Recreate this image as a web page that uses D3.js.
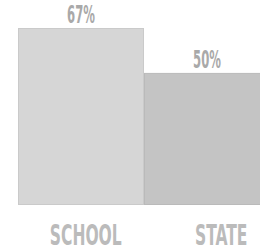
<!DOCTYPE html>
<html>
<head>
<meta charset="utf-8">
<script src="https://cdn.jsdelivr.net/npm/d3@7"></script>
<style>
  body { margin: 0; background: #fff; }
  svg { display: block; }
</style>
</head>
<body>
<svg id="chart"></svg>
<script>
const categories = ["SCHOOL", "STATE"];
const values = [67, 50];
const valueLabels = ["67%", "50%"];

document.addEventListener("DOMContentLoaded", function() {
  const width = 260;
  const height = 252;
  const baseY = 205;

  let svg = d3.select("#chart")
              .attr("width", width)
              .attr("height", height);

  //scales
  let xScale = d3.scaleBand()
                 .domain(categories)
                 .range([18, 270])
                 .padding(0);

  let labelScale = d3.scaleBand()
                     .domain(categories)
                     .range([18, 289]);

  let yScale = d3.scaleLinear()
                 .domain([0, 67])
                 .range([baseY, 28]);

  const fills = ["#d6d6d6", "#c4c4c4"];
  const strokes = ["#cacaca", "#bababa"];

  //bars
  svg.selectAll(".bar")
     .data(values)
     .enter()
     .append("rect")
       .attr("class", "bar")
       .attr("x", (d, i) => xScale(categories[i]) + 0.5)
       .attr("y", d => yScale(d) + 0.5)
       .attr("width", xScale.bandwidth() - 1)
       .attr("height", d => baseY - yScale(d) - 1)
       .attr("fill", (d, i) => fills[i])
       .attr("stroke", (d, i) => strokes[i])
       .attr("stroke-width", 1);

  //value labels, squeezed to look condensed
  svg.selectAll(".val")
     .data(values)
     .enter()
     .append("text")
       .attr("class", "val")
       .attr("text-anchor", "middle")
       .attr("transform", (d, i) =>
         `translate(${xScale(categories[i]) + xScale.bandwidth() / 2},${yScale(d) - 5}) scale(0.54,1.05)`)
       .style("font", "bold 24px 'DejaVu Sans Condensed', sans-serif")
       .style("fill", "#a9a9a9")
       .text((d, i) => valueLabels[i]);

  //category labels
  svg.selectAll(".cat")
     .data(categories)
     .enter()
     .append("text")
       .attr("class", "cat")
       .attr("text-anchor", "middle")
       .attr("transform", d =>
         `translate(${labelScale(d) + labelScale.bandwidth() / 2},245) scale(0.64,1.05)`)
       .style("font", "bold 27px 'DejaVu Sans Condensed', sans-serif")
       .style("fill", "#bbbbbb")
       .text(d => d);
});
</script>
</body>
</html>
